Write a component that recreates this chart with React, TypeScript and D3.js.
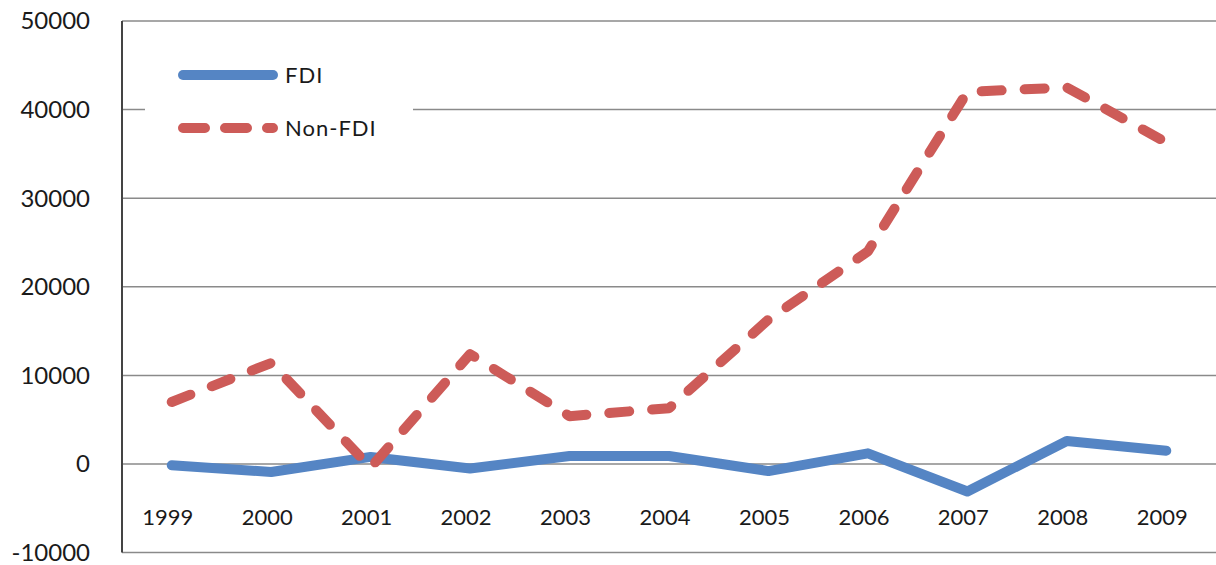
import React from "react";
import * as d3 from "d3";

const years = ["1999", "2000", "2001", "2002", "2003", "2004", "2005", "2006", "2007", "2008", "2009"];
const fdi = [-150, -900, 800, -500, 900, 900, -800, 1200, -3100, 2600, 1500];
const nonFdi = [7000, 11400, -400, 12400, 5400, 6300, 16300, 24000, 42000, 42500, 36300];
const yTicks = [-10000, 0, 10000, 20000, 30000, 40000, 50000];
const seriesNames = ["FDI", "Non-FDI"];

const W = 1216;
const H = 565;
const FONT = "Lato, 'Open Sans', sans-serif";
const BLUE = "#5585c4";
const RED = "#cd5b58";

export default function App() {
  const x = d3.scaleBand<string>().domain(years).range([122, 1216]);
  const y = d3.scaleLinear().domain([-10000, 50000]).range([552.6, 21]);
  const cx = (i: number) => (x(years[i]) as number) + x.bandwidth() / 2;
  const line = d3
    .line<number>()
    .x((_, i) => cx(i))
    .y((d) => y(d));

  return (
    <svg
      width={W}
      height={H}
      style={{ position: "absolute", left: 0, top: 0, background: "#fff" }}
    >
      <rect x={0} y={0} width={W} height={H} fill="#fff" />
      {yTicks.map((t) => (
        <line key={t} x1={122} x2={W} y1={y(t)} y2={y(t)} stroke="#8a8a8a" strokeWidth={1.5} />
      ))}
      <line x1={122} x2={122} y1={y(50000)} y2={y(-10000)} stroke="#444" strokeWidth={2} />
      {yTicks.map((t) => (
        <text
          key={"l" + t}
          x={90}
          y={y(t)}
          dy="0.35em"
          textAnchor="end"
          fontFamily={FONT}
          fontSize={24}
          fill="#1a1a1a"
        >
          {t}
        </text>
      ))}
      {years.map((yr, i) => (
        <text
          key={yr}
          x={cx(i) - 4}
          y={517}
          dy="0.35em"
          textAnchor="middle"
          fontFamily={FONT}
          fontSize={22}
          fill="#1a1a1a"
        >
          {yr}
        </text>
      ))}
      <path
        d={line(fdi) as string}
        fill="none"
        stroke={BLUE}
        strokeWidth={10}
        strokeLinejoin="round"
        strokeLinecap="round"
      />
      <path
        d={line(nonFdi) as string}
        fill="none"
        stroke={RED}
        strokeWidth={10}
        strokeLinejoin="round"
        strokeLinecap="round"
        strokeDasharray="20 23"
      />
      <g>
        <rect x={145} y={45} width={268} height={115} fill="#fff" />
        <line x1={183} x2={273} y1={75} y2={75} stroke={BLUE} strokeWidth={10} strokeLinecap="round" />
        <text x={285} y={75} dy="0.35em" fontFamily={FONT} fontSize={22} letterSpacing={1} fill="#1a1a1a">
          {seriesNames[0]}
        </text>
        <line
          x1={183}
          x2={273}
          y1={128}
          y2={128}
          stroke={RED}
          strokeWidth={10}
          strokeLinecap="round"
          strokeDasharray="22 20"
        />
        <text x={285} y={128} dy="0.35em" fontFamily={FONT} fontSize={22} letterSpacing={1} fill="#1a1a1a">
          {seriesNames[1]}
        </text>
      </g>
    </svg>
  );
}
